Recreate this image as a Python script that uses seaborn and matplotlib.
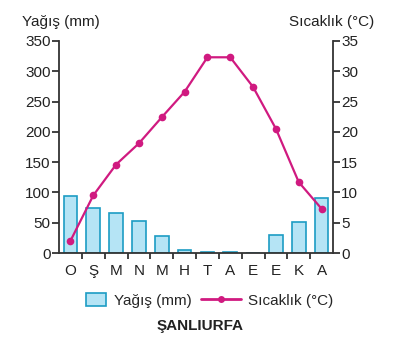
import matplotlib
matplotlib.use("Agg")
import matplotlib.pyplot as plt
import seaborn as sns
import pandas as pd
from matplotlib.patches import Patch, Rectangle
from matplotlib.lines import Line2D
from matplotlib.legend_handler import HandlerPatch

months = ["O", "Ş", "M", "N", "M", "H", "T", "A", "E", "E", "K", "A"]
precip = [94, 74, 66, 53, 28, 5, 1, 1, 0, 30, 51, 91]
temp = [2.0, 9.5, 14.6, 18.1, 22.4, 26.6, 32.3, 32.3, 27.4, 20.5, 11.7, 7.3]

sns.set_theme(style="white")
plt.rcParams['font.family'] = ['Liberation Sans', 'DejaVu Sans']

df = pd.DataFrame({"idx": list(range(12)), "precip": precip, "temp": temp})

fig = plt.figure(figsize=(4.0, 3.41), dpi=100)
ax = fig.add_axes([0.1475, 0.258, 0.685, 0.622])

sns.barplot(data=df, x="idx", y="precip", ax=ax, color="#b5e4f5",
            edgecolor="#1c9cc4", linewidth=1.2, width=0.6, saturation=1)
ax.set_xlim(-0.5, 11.5)
ax.set_ylim(0, 350)
ax.set_yticks(range(0, 351, 50))
ax.set_xticks(range(12))
ax.set_xticklabels(months)
ax.set_xticks([i + 0.5 for i in range(11)], minor=True)
ax.set_xlabel("")
ax.set_ylabel("")

ax2 = ax.twinx()
sns.lineplot(data=df, x="idx", y="temp", ax=ax2, color="#d01a80",
             marker="o", markersize=5.5, markeredgewidth=0, linewidth=1.6)
ax2.set_ylim(0, 35)
ax2.set_yticks(range(0, 36, 5))
ax2.set_xlim(-0.5, 11.5)
ax2.set_xlabel("")
ax2.set_ylabel("")

col = "#333333"
fs = 11
for a in (ax, ax2):
    for s in a.spines.values():
        s.set_color(col)
        s.set_linewidth(1.3)
    a.spines['top'].set_visible(False)
ax.spines['right'].set_visible(False)
ax2.spines['left'].set_visible(False)
ax2.spines['bottom'].set_visible(False)

ax.tick_params(axis='y', which='major', left=True, length=5, width=1.3,
               color=col, labelsize=fs, labelcolor="#222222", pad=1)
ax.tick_params(axis='x', which='major', bottom=False, labelsize=fs,
               labelcolor="#222222", pad=2)
ax.tick_params(axis='x', which='minor', bottom=True, length=4, width=1.3,
               color=col)
ax2.tick_params(axis='y', right=True, length=5, width=1.3, color=col,
                labelsize=fs, labelcolor="#222222", pad=1)

fig.text(0.055, 0.935, "Yağış (mm)", fontsize=fs, color="#222222",
         ha="left", va="center")
fig.text(0.935, 0.935, "Sıcaklık (°C)", fontsize=fs, color="#222222",
         ha="right", va="center")


def small_rect(legend, orig_handle, xdescent, ydescent, width, height, fontsize):
    w = width * 0.5
    return Rectangle((-xdescent + width - w, -ydescent), w, height)


handles = [Patch(facecolor="#b5e4f5", edgecolor="#1c9cc4", linewidth=1.2),
           Line2D([0], [0], color="#d01a80", marker="o", markersize=5,
                  markeredgewidth=0, linewidth=2)]
fig.legend(handles, ["Yağış (mm)", "Sıcaklık (°C)"], loc="center",
           bbox_to_anchor=(0.5, 0.118), ncol=2, frameon=False, fontsize=fs,
           handlelength=2.6, handleheight=0.9, handletextpad=0.5,
           columnspacing=0.6,
           handler_map={Patch: HandlerPatch(patch_func=small_rect)})
fig.text(0.5, 0.045, "ŞANLIURFA", fontsize=fs, fontweight="bold",
         color="#222222", ha="center", va="center")

fig.savefig("out.png", dpi=100)
